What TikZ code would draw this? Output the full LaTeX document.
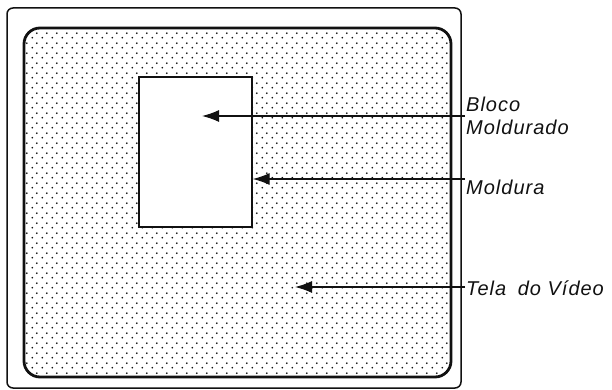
\documentclass[tikz,border=0pt]{standalone}
\usepackage{fontspec}
\usetikzlibrary{positioning,arrows.meta,patterns.meta}
\newfontfamily\labelfont{Liberation Sans}[LetterSpace=5]
\definecolor{inkBlack}{HTML}{111111}

\tikzdeclarepattern{
  name=screendots, type=uncolored,
  bottom left={(0pt,0pt)}, top right={(10pt,10pt)}, tile size={(10pt,10pt)},
  code={\fill (2.5pt,2.5pt) circle (1.05pt); \fill (7.5pt,7.5pt) circle (1.05pt);}}

\begin{document}
\begin{tikzpicture}[x=1pt, y=-1pt, >={Latex[length=17pt,width=12pt]},
          cabinet/.style={draw=inkBlack, line width=1.5pt, rounded corners=6pt, minimum width=454pt, minimum height=380pt, inner sep=0pt},
          screen/.style={draw=inkBlack, line width=2.8pt, rounded corners=16pt, pattern=screendots, pattern color=inkBlack, minimum width=427pt, minimum height=349pt, inner sep=0pt},
          block/.style={draw=inkBlack, line width=1.3pt, fill=white, minimum width=113pt, minimum height=150pt, inner sep=0pt},
          lbl/.style={font=\labelfont\itshape\fontsize{20}{23}\selectfont, text=inkBlack, inner sep=1pt, align=left},
          pointer/.style={->, draw=inkBlack, line width=1.3pt}]
        \useasboundingbox (0,0) rectangle (612,390);
        \node[cabinet] (tv) at (234,198) {};
        \node[screen] (scr) at (237.5,202.5) {};
        \node[block] (blk) at (195.5,152) {};
        % labels on the right
        \node[lbl, anchor=west] (lblBlock) at (465,116) {Bloco\\Moldurado};
        \node[lbl, anchor=north west] (lblFrame) at (465,179) {Moldura};
        \node[lbl, anchor=west] (lblScreen) at (465,288) {Tela\hspace{0.25em} do Vídeo};
        \coordinate (blockMark) at (202,116);
        \coordinate (screenMark) at (295,287);
        \draw[pointer] (lblBlock.west) -- (blockMark);
        \draw[pointer] (lblFrame.north west) -- (lblFrame.north west -| blk.east);
        \draw[pointer] (lblScreen.west |- screenMark) -- (screenMark);
      \end{tikzpicture}
\end{document}
